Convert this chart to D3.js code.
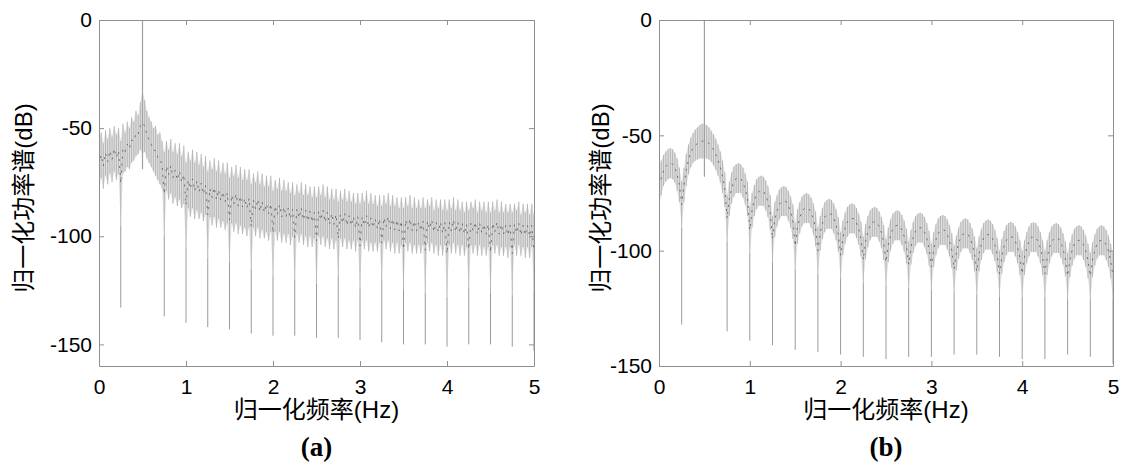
<!DOCTYPE html>
<html>
<head>
<meta charset="utf-8">
<script src="https://cdn.jsdelivr.net/npm/d3@7"></script>
<style>
  body { margin: 0; background: #fff; }
  svg text { font-family: "Liberation Sans", Arial, "Noto Sans CJK SC", sans-serif; }
</style>
</head>
<body>
<svg id="chart" width="1121" height="469"></svg>
<script>
// frequency grid step (Hz), 201 samples from 0 to 5
const freqStep = 0.025;
const xTicks = [0, 1, 2, 3, 4, 5];
const yTicks = [0, -50, -100, -150];

// positions of the deep nulls (Hz)
const nullFreqs = [0.25, 0.75, 1, 1.25, 1.5, 1.75, 2, 2.25, 2.5, 2.75, 3, 3.25, 3.5, 3.75, 4, 4.25, 4.5, 4.75, 5];
const spikeFreq = 0.5;

// (a) top / bottom of the spectrum band, one row per 0.25 Hz
const leftHi = [
  -55,-52,-57,-51,-55,-50,-54,-49,-53,-50,
  -56,-48,-52,-47,-50,-45,-47,-42,-44,-38,
  -33,-37,-42,-45,-47,-50,-49,-53,-52,-56,
  -61,-56,-60,-55,-61,-57,-62,-57,-63,-58,
  -66,-61,-65,-60,-66,-61,-67,-62,-68,-63,
  -70,-65,-69,-64,-70,-65,-71,-66,-71,-66,
  -73,-68,-72,-67,-73,-68,-74,-69,-74,-69,
  -76,-71,-75,-70,-76,-71,-77,-72,-77,-72,
  -79,-74,-78,-73,-79,-74,-79,-75,-80,-75,
  -81,-76,-80,-75,-81,-76,-81,-77,-82,-77,
  -82,-77,-81,-76,-82,-77,-83,-78,-83,-78,
  -84,-79,-83,-78,-84,-79,-84,-80,-85,-80,
  -85,-80,-84,-79,-85,-80,-85,-81,-86,-81,
  -86,-81,-85,-80,-86,-81,-86,-82,-87,-82,
  -87,-82,-86,-81,-87,-82,-87,-83,-87,-82,
  -87,-83,-86,-82,-88,-83,-87,-83,-88,-83,
  -88,-83,-87,-82,-88,-83,-88,-84,-89,-84,
  -88,-84,-87,-83,-89,-84,-88,-84,-89,-84,
  -89,-84,-88,-83,-89,-84,-89,-85,-89,-85,
  -89,-85,-88,-84,-90,-85,-89,-85,-90,-85,
  -90
];
const leftLo = [
  -79,-73,-78,-72,-76,-71,-75,-70,-74,-71,
  -95,-71,-70,-68,-69,-66,-65,-63,-62,-60,
  -62,-61,-64,-66,-68,-70,-72,-74,-76,-78,
  -100,-79,-83,-80,-85,-82,-86,-83,-87,-85,
  -105,-87,-91,-87,-92,-88,-92,-89,-93,-90,
  -110,-91,-95,-91,-96,-92,-96,-93,-97,-94,
  -112,-94,-98,-94,-99,-95,-99,-96,-100,-96,
  -115,-96,-100,-96,-101,-97,-101,-98,-102,-98,
  -118,-98,-102,-98,-103,-99,-103,-99,-104,-100,
  -120,-99,-103,-99,-104,-100,-105,-100,-105,-101,
  -122,-100,-104,-100,-105,-101,-106,-101,-106,-102,
  -118,-101,-105,-101,-106,-102,-106,-102,-107,-102,
  -124,-102,-106,-102,-107,-103,-107,-103,-107,-103,
  -120,-102,-106,-102,-107,-103,-108,-103,-108,-104,
  -125,-103,-107,-103,-108,-104,-108,-104,-108,-104,
  -126,-103,-107,-103,-108,-104,-109,-104,-109,-104,
  -128,-104,-108,-103,-108,-104,-109,-104,-109,-105,
  -124,-104,-108,-104,-109,-104,-109,-105,-109,-105,
  -126,-104,-108,-104,-109,-105,-109,-105,-110,-105,
  -127,-104,-109,-104,-109,-105,-110,-105,-110,-105,
  -125
];
const leftNullDb = [-133,-137,-140,-142,-143,-145,-146,-146,-147,-147,-148,-149,-150,-150,-151,-150,-150,-151,-153];
const leftSpikeLo = -69;

// (b) top / bottom of the spectrum band, one lobe per row
const rightHi = [
  -64,-61,-58.5,-57,-56,-55.5,-56,-57.5,-60,-64,
  -70,-64,-58,-54,-51,-49,-47.5,-46.5,-45.5,-45,
  -45,-45.5,-46.5,-48,-49.5,-51.5,-54,-57,-61,-66,
  -76,-70,-66,-63.5,-62.5,-62,-62.5,-64,-66.5,-70,
  -81,-75,-71.5,-69,-68,-67.5,-68,-69.5,-72,-76,
  -85,-79,-76,-73.5,-72.5,-72,-72.5,-74,-76.5,-80,
  -88,-82,-79,-76.5,-75.5,-75,-75.5,-77,-79.5,-83,
  -90,-85,-81.5,-79,-78,-77.5,-78,-79.5,-82,-85.5,
  -92,-87,-83.5,-81,-80,-79.5,-80,-81.5,-84,-87.5,
  -94,-88.5,-85,-82.5,-81.5,-81,-81.5,-83,-85.5,-89,
  -95,-90,-86.5,-84,-83,-82.5,-83,-84.5,-87,-90.5,
  -96,-91,-87.5,-85,-84,-83.5,-84,-85.5,-88,-91.5,
  -97,-92,-88.5,-86,-85,-84.5,-85,-86.5,-89,-92.5,
  -98,-93.5,-90,-87.5,-86.5,-86,-86.5,-88,-90.5,-94,
  -99,-94,-90.5,-88,-87,-86.5,-87,-88.5,-91,-94.5,
  -100,-95,-91.5,-89,-88,-87.5,-88,-89.5,-92,-95.5,
  -100,-95.5,-92,-89.5,-88,-87.7,-88,-89.5,-92,-95.5,
  -100,-95.5,-92,-89.5,-88.5,-88,-88.5,-90,-92.5,-96,
  -101,-96.5,-93,-90.5,-89.5,-89,-89.5,-91,-93.5,-97,
  -101,-96.5,-93,-90.5,-89.5,-89,-89.5,-91,-93.5,-97,
  -101
];
const rightLo = [
  -80,-76,-72,-70,-69,-68.5,-69,-70.5,-74,-79,
  -90,-79,-72,-67,-64,-62,-61,-60.5,-60,-60,
  -60,-60,-60.5,-61.5,-63,-65,-67.5,-70.5,-75,-81,
  -96,-85,-79.5,-76.5,-75,-75,-75,-77,-80,-85,
  -101,-90,-85,-82,-80.5,-80.5,-80.5,-82.5,-85.5,-91,
  -105,-94,-89.5,-86.5,-85,-85,-85,-87,-90,-95,
  -108,-97,-92.5,-89.5,-88,-88,-88,-90,-93,-98,
  -110,-100,-95,-92,-90.5,-90.5,-90.5,-92.5,-95.5,-100.5,
  -112,-102,-97,-94,-92.5,-92.5,-92.5,-94.5,-97.5,-102.5,
  -114,-103.5,-98.5,-95.5,-94,-94,-94,-96,-99,-104,
  -115,-105,-100,-97,-95.5,-95.5,-95.5,-97.5,-100.5,-105.5,
  -116,-106,-101,-98,-96.5,-96.5,-96.5,-98.5,-101.5,-106.5,
  -117,-107,-102,-99,-97.5,-97.5,-97.5,-99.5,-102.5,-107.5,
  -118,-108.5,-103.5,-100.5,-99,-99,-99,-101,-104,-109,
  -119,-109,-104,-101,-99.5,-99.5,-99.5,-101.5,-104.5,-109.5,
  -120,-110,-105,-102,-100.5,-100.5,-100.5,-102.5,-105.5,-110.5,
  -120,-110.5,-105.5,-102.5,-100.5,-100.7,-100.5,-102.5,-105.5,-110.5,
  -120,-110.5,-105.5,-102.5,-101,-101,-101,-103,-106,-111,
  -121,-111.5,-106.5,-103.5,-102,-102,-102,-104,-107,-112,
  -121,-111.5,-106.5,-103.5,-102,-102,-102,-104,-107,-112,
  -121
];
const rightNullDb = [-132,-135,-139,-141,-143,-144,-145,-146,-147,-146,-146,-145,-145,-146,-147,-147,-145,-146,-149];
const rightSpikeLo = -68;

const svg = d3.select("#chart");

function drawPanel(p) {
    const width = p.right - p.left,
          height = p.bottom - p.top;

    const g = svg.append("g").attr("transform", `translate(${p.left},${p.top})`);

    const x = d3.scaleLinear().domain([0, 5]).range([0, width]);
    const y = d3.scaleLinear().domain(p.yDomain).range([height, 0]);

    const pts = p.hi.map((h, i) => ({f: i * freqStep, hi: h, lo: p.lo[i]}));

    g.append("clipPath").attr("id", "clip-" + p.id)
     .append("rect").attr("width", width).attr("height", height);
    const plot = g.append("g").attr("clip-path", `url(#clip-${p.id})`);

    // light band
    const area = d3.area()
                   .x(d => x(d.f))
                   .y0(d => y(d.lo))
                   .y1(d => y(d.hi));
    plot.append("path")
        .datum(pts)
        .attr("fill", "#e0e0e0")
        .attr("d", area);

    // vertical strokes
    plot.selectAll(".stroke")
        .data(pts)
        .enter().append("line")
        .attr("x1", d => x(d.f)).attr("x2", d => x(d.f))
        .attr("y1", d => y(d.hi)).attr("y2", d => y(d.lo))
        .attr("stroke", "#b6b6b6")
        .attr("stroke-width", 1);

    // deep nulls
    plot.selectAll(".null")
        .data(nullFreqs.map((f, i) => ({f, db: p.nullDb[i], lo: p.lo[Math.round(f / freqStep)]})))
        .enter().append("line")
        .attr("x1", d => x(d.f)).attr("x2", d => x(d.f))
        .attr("y1", d => y(d.lo)).attr("y2", d => y(d.db))
        .attr("stroke", "#9a9a9a")
        .attr("stroke-width", 1);

    // dark centre trace
    const line = d3.line()
                   .x(d => x(d.f))
                   .y(d => y((d.hi + d.lo) / 2));
    plot.append("path")
        .datum(pts)
        .attr("fill", "none")
        .attr("stroke", "#555")
        .attr("stroke-width", 0.8)
        .attr("stroke-dasharray", "2,5")
        .attr("d", line);

    // carrier spike
    plot.append("line")
        .attr("x1", x(spikeFreq)).attr("x2", x(spikeFreq))
        .attr("y1", y(p.spikeLo)).attr("y2", y(0))
        .attr("stroke", "#a0a0a0")
        .attr("stroke-width", 1.2);

    // axes (inward ticks, mirrored box)
    const axisColor = "#8f8f8f";
    const fmt = d => String(d);
    const gx = g.append("g").attr("transform", `translate(0,${height})`)
                .call(d3.axisBottom(x).tickValues(xTicks).tickFormat(fmt).tickSize(-5).tickSizeOuter(0).tickPadding(13));
    const gy = g.append("g")
                .call(d3.axisLeft(y).tickValues(yTicks).tickFormat(fmt).tickSize(-5).tickSizeOuter(0).tickPadding(7));
    const gt = g.append("g")
                .call(d3.axisTop(x).tickValues(xTicks).tickFormat("").tickSize(-5).tickSizeOuter(0));
    const gr = g.append("g").attr("transform", `translate(${width},0)`)
                .call(d3.axisRight(y).tickValues(yTicks).tickFormat("").tickSize(-5).tickSizeOuter(0));
    [gx, gy, gt, gr].forEach(a => {
        a.selectAll("path, line").attr("stroke", axisColor);
        a.selectAll("text").attr("fill", "#000").style("font-size", "21px")
         .style("font-family", "'Liberation Sans', Arial, sans-serif");
    });

    // axis titles
    svg.append("text")
       .attr("x", p.left + width / 2)
       .attr("y", 418)
       .attr("text-anchor", "middle")
       .style("font-size", "24px")
       .text("归一化频率(Hz)");

    svg.append("text")
       .attr("transform", `translate(${p.yLabelX},${198}) rotate(-90)`)
       .attr("text-anchor", "middle")
       .attr("dominant-baseline", "central")
       .style("font-size", "24px")
       .text("归一化功率谱(dB)");

    svg.append("text")
       .attr("x", p.left + width / 2)
       .attr("y", 456)
       .attr("text-anchor", "middle")
       .style("font-family", "'Liberation Serif', 'Times New Roman', serif")
       .style("font-weight", "bold")
       .style("font-size", "27px")
       .text(p.caption);
}

drawPanel({id: "a", left: 99, right: 534, top: 20, bottom: 366, yDomain: [-160, 0],
           hi: leftHi, lo: leftLo, nullDb: leftNullDb, spikeLo: leftSpikeLo,
           yLabelX: 23, caption: "(a)"});
drawPanel({id: "b", left: 659, right: 1113, top: 20, bottom: 366, yDomain: [-150, 0],
           hi: rightHi, lo: rightLo, nullDb: rightNullDb, spikeLo: rightSpikeLo,
           yLabelX: 600, caption: "(b)"});
</script>
</body>
</html>
